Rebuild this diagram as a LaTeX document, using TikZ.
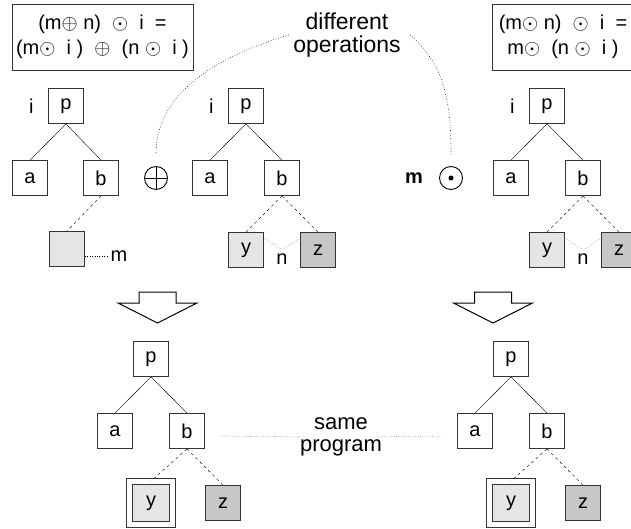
\documentclass[tikz,border=0pt]{standalone}
\usepackage{fontspec}
\setmainfont{Liberation Sans}
\usetikzlibrary{calc,positioning}

\begin{document}
\begin{tikzpicture}[x=1pt,y=-1pt,
    font=\fontsize{20}{25}\selectfont,
    tnode/.style={draw=black!80,line width=0.8pt,minimum size=35pt,inner sep=0pt},
    lite/.style={tnode,fill=black!10},
    dark/.style={tnode,fill=black!22},
    sel/.style={lite,double,double distance=5pt,minimum size=43pt},
    law/.style={draw=black!80,line width=0.8pt,minimum height=66pt,align=center},
    note/.style={font=\fontsize{23}{23}\selectfont,align=center},
    bigarrow/.style={draw,line width=1pt,line join=miter,fill=white}]
  \useasboundingbox (0,0) rectangle (631,529);
  \clip (0,0) rectangle (631,529);

  % the two laws
  \node (law1) [law,minimum width=181pt] at (102.5,37) {(m$\oplus$ n) \ $\odot$ \ i \ =\\(m$\odot$ \ i ) \ $\oplus$ \ (n $\odot$ \ i )};
  \node (law2) [law,minimum width=142pt] at (563,37) {(m$\odot$ n) \ $\odot$ \ i \ =\\m$\odot$ \ (n $\odot$ \ i )};
  \node (ops) [note] at (347,35) {different\\operations};

  % left tree, plus and m dot
  \node (p1) [tnode] at (66,106) {p};
  \node (a1) [tnode] at (30,178) {a};
  \node (b1) [tnode] at (101,178) {b};
  \node (m1) [lite] at (67,249) {};
  \node (i1) [left=11pt of p1] {i};
  \node (n1) at (119,256) {m};
  \draw (p1.south) -- (a1.north) (p1.south) -- (b1.north);
  \draw[dashed] (b1.south) -- (m1.north);
  \draw[dotted] (m1.east |- n1.west) -- (n1.west);

  \node (plus) [circle,draw,line width=0.9pt,minimum size=23pt,inner sep=0pt] at (156,178) {};
  \draw[line width=0.9pt] (plus.north) -- (plus.south) (plus.west) -- (plus.east);
  \node (dot) [circle,draw,line width=0.9pt,minimum size=23pt,inner sep=0pt] at (451,178) {};
  \fill (dot.center) circle (2.5);
  \node (mb) at (414,178) {\textbf{m}};

  \draw[dotted,line width=0.6pt] ([xshift=-1pt]ops.west) .. controls +(-100,30) and +(0,-45) .. ([yshift=12pt]plus.north);
  \draw[dotted,line width=0.6pt] ([xshift=6pt]ops.east) .. controls +(35,30) and +(0,-50) .. ([yshift=12pt]dot.north);

  % the other trees
  \foreach \t/\x/\y/\ys in {2/246/106/lite,3/547/106/lite,4/151/359/sel,5/511/359/sel} {
    \node (p\t) [tnode] at (\x,\y) {p};
    \node (a\t) [tnode] at (\x-36,\y+72) {a};
    \node (b\t) [tnode] at (\x+36,\y+72) {b};
    \node (y\t) [\ys] at (\x,\y+144) {y};
    \node (z\t) [dark] at (\x+72,\y+144) {z};
    \draw (p\t.south) -- (a\t.north) (p\t.south) -- (b\t.north);
    \draw[dashed] (b\t.south) -- (y\t.north) (b\t.south) -- (z\t.north);
  }
  \foreach \t in {2,3} {
    \node (i\t) [left=11pt of p\t] {i};
    \coordinate (v\t) at (b\t |- y\t);
    \node (n\t) [below=0pt of v\t] {n};
    \draw[dotted] ([yshift=12pt]y\t.east) -- (v\t) -- ([yshift=12pt]z\t.west);
  }

  % arrows down
  \foreach \c in {157.5,493}
    \draw[bigarrow] (\c-18.5,292) -- ++(37,0) -- ++(0,11) -- ++(21,0) -- (\c,323) -- (\c-39.5,303) -- ++(21,0) -- cycle;

  \node (same) [note,font=\fontsize{22}{22}\selectfont] at (341,437) {same\\program};
  \draw[dotted] ([xshift=13pt,yshift=-5pt]b4.east) -- ([xshift=9pt]same.west);
  \draw[dotted] ([xshift=-13pt]same.east) -- ([xshift=-14pt,yshift=-5pt]a5.west);
\end{tikzpicture}
\end{document}
